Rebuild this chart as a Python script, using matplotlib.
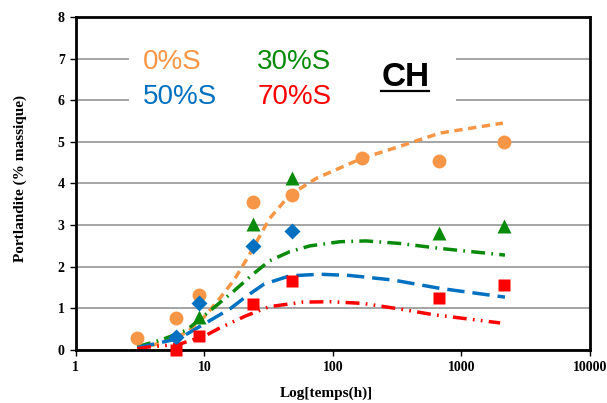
import matplotlib
matplotlib.use("Agg")
import matplotlib.pyplot as plt
from matplotlib.patches import Rectangle

# ----- measured points -----
t_0 = [3, 6, 9, 24, 48, 168, 672, 2160]
ch_0 = [0.30, 0.78, 1.33, 3.55, 3.73, 4.62, 4.55, 5.00]

t_30 = [9, 24, 48, 672, 2160]
ch_30 = [0.80, 3.03, 4.14, 2.80, 2.98]

t_50 = [6, 9, 24, 48]
ch_50 = [0.32, 1.12, 2.50, 2.85]

t_70 = [6, 9, 24, 48, 672, 2160]
ch_70 = [0.00, 0.34, 1.10, 1.66, 1.24, 1.55]

# ----- model curves -----
fit_t_0 = [3, 4, 5, 7.3, 10, 13, 17, 22, 32, 46, 75, 113, 167, 330, 680, 2100]
fit_0 = [0.05, 0.12, 0.22, 0.42, 0.80, 1.22, 1.68, 2.25, 3.15, 3.72, 4.13, 4.37, 4.60, 4.89, 5.21, 5.45]

fit_t_30 = [3, 4.6, 7.3, 9.2, 13, 17, 23, 32, 46, 66, 113, 180, 330, 680, 2180]
fit_30 = [0.08, 0.24, 0.48, 0.74, 1.12, 1.42, 1.78, 2.14, 2.36, 2.50, 2.60, 2.62, 2.56, 2.44, 2.28]

fit_t_50 = [3, 4, 6.4, 10.4, 16, 21, 29, 46, 79, 135, 295, 680, 2180]
fit_50 = [0.06, 0.14, 0.28, 0.66, 1.00, 1.28, 1.58, 1.78, 1.82, 1.79, 1.68, 1.48, 1.27]

fit_t_70 = [3, 3.6, 6.4, 10.4, 13, 21, 32, 58, 95, 170, 340, 600, 2000]
fit_70 = [0.03, 0.07, 0.14, 0.36, 0.52, 0.82, 1.04, 1.15, 1.16, 1.12, 0.98, 0.85, 0.65]

ORANGE = "#F79646"
GREEN = "#0A8A0A"
BLUE = "#0070C0"
RED = "#FF0000"

SERIF = "Liberation Serif"
SANS = "Liberation Sans"


def main() -> None:
    fig = plt.figure(figsize=(6.07, 4.03), dpi=100)
    ax = fig.add_axes([0.125, 0.1315, 0.847, 0.8265])

    ax.set_xscale("log")
    ax.set_xlim(1, 10000)
    ax.set_ylim(0, 8)

    # grid, hidden behind the legend block like in the original
    ax.set_axisbelow(True)
    ax.yaxis.grid(True, color="#8c8c8c", linewidth=1.1)
    ax.xaxis.grid(False)
    ax.add_patch(Rectangle((2.6, 5.6), 900 - 2.6, 1.9, facecolor="white",
                           edgecolor="none", zorder=0.8))

    # fitted curves
    lw = 2.5
    ax.plot(fit_t_0, fit_0, color=ORANGE, lw=lw, dashes=(2.4, 1.6), zorder=2)
    ax.plot(fit_t_30, fit_30, color=GREEN, lw=lw,
            dashes=(4, 1.8, 0.5, 1.8), zorder=2)
    ax.plot(fit_t_50, fit_50, color=BLUE, lw=lw, dashes=(5, 2.3), zorder=2)
    ax.plot(fit_t_70, fit_70, color=RED, lw=lw,
            dashes=(4, 1.8, 0.5, 1.8, 0.5, 1.8), zorder=2)

    # measured points
    mk = dict(mec="none", zorder=3, clip_on=False, ls="none")
    ax.plot(t_0, ch_0, "o", color=ORANGE, ms=10, **mk)
    ax.plot(t_30, ch_30, "^", color=GREEN, ms=10, **mk)
    ax.plot(t_50, ch_50, "D", color=BLUE, ms=8, **mk)
    ax.plot(t_70, ch_70, "s", color=RED, ms=8.5, **mk)

    # legend as coloured text
    tx = dict(transform=ax.transAxes, fontsize=20, family=SANS, zorder=4)
    ax.text(0.131, 0.844, "0%S", color=ORANGE, **tx)
    ax.text(0.131, 0.739, "50%S", color=BLUE, **tx)
    ax.text(0.353, 0.844, "30%S", color=GREEN, **tx)
    ax.text(0.353, 0.739, "70%S", color=RED, **tx)
    ax.text(0.595, 0.793, "CH", color="black", fontsize=24, weight="bold",
            family=SANS, transform=ax.transAxes, zorder=4)
    ax.plot([0.593, 0.686], [0.777, 0.777], color="black", lw=1.6,
            transform=ax.transAxes, zorder=4)

    # axes styling
    for side in ["left", "bottom", "top", "right"]:
        ax.spines[side].set_linewidth(2.0)
        ax.spines[side].set_color("black")

    ax.set_xticks([1, 10, 100, 1000, 10000])
    ax.set_xticklabels(["1", "10", "100", "1000", "10000"])
    ax.minorticks_off()
    ax.set_yticks(range(0, 9))
    ax.tick_params(axis="both", direction="out", length=4, width=1,
                   labelsize=10, pad=4)
    for lab in ax.get_xticklabels() + ax.get_yticklabels():
        lab.set_family(SERIF)
        lab.set_weight("bold")

    ax.set_xlabel("Log[temps(h)]", family=SERIF, weight="bold", fontsize=11)
    ax.set_ylabel("Portlandite (% massique)", family=SERIF, weight="bold",
                  fontsize=11)
    ax.xaxis.set_label_coords(0.488, -0.11)
    ax.yaxis.set_label_coords(-0.095, 0.514)

    fig.savefig("out.png", dpi=100)
    plt.close(fig)


if __name__ == "__main__":
    main()
